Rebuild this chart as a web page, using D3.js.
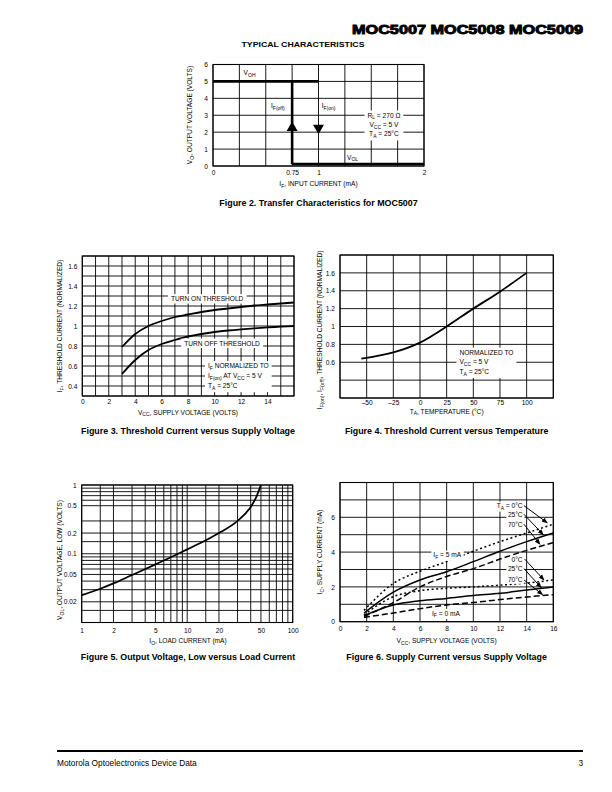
<!DOCTYPE html>
<html><head><meta charset="utf-8">
<script src="https://cdn.jsdelivr.net/npm/d3@7/dist/d3.min.js"></script>
<style>
body{margin:0;background:#fff}
svg{display:block}
text{font-family:"Liberation Sans",Arial,Helvetica,sans-serif;fill:#000}
</style></head>
<body><svg id="page" width="612" height="792"></svg>
<script>
// ================= DATA =================
// Figure 2 – transfer characteristics
const fig2XTicks = [0, 0.75, 1, 2];
const fig2YTicks = [0, 1, 2, 3, 4, 5, 6];
const fig2XGrid = [0, 0.25, 0.5, 0.75, 1, 1.25, 1.5, 1.75, 2];
const fig2YGrid = [0, 1, 2, 3, 4, 5, 6];
const fig2HighLevel = [[0, 5], [1, 5]];
const fig2Switch = [[0.75, 5], [0.75, 0.12]];
const fig2LowLevel = [[0.75, 0.12], [2, 0.12]];
const fig2Arrows = [{x: 0.75, y: 2.25, dir: "up"}, {x: 1, y: 2.25, dir: "down"}];

// Figure 3 – threshold current vs supply voltage
const fig3Vcc = [3, 4, 5, 6, 7, 8, 9, 10, 11, 12, 13, 14, 15, 16];
const fig3TurnOn = [0.79, 0.92, 1.0, 1.05, 1.09, 1.115, 1.14, 1.16, 1.175, 1.19, 1.205, 1.215, 1.225, 1.235];
const fig3TurnOff = [0.52, 0.66, 0.76, 0.82, 0.86, 0.895, 0.92, 0.94, 0.955, 0.967, 0.977, 0.986, 0.993, 1.0];
const fig3XTicks = [0, 2, 4, 6, 8, 10, 12, 14];
const fig3YTicks = [0.4, 0.6, 0.8, 1, 1.2, 1.4, 1.6];
const fig3XGrid = [0,1,2,3,4,5,6,7,8,9,10,11,12,13,14,15,16];
const fig3YGrid = [0.3,0.4,0.5,0.6,0.7,0.8,0.9,1.0,1.1,1.2,1.3,1.4,1.5,1.6,1.7];

// Figure 4 – threshold current vs temperature
const fig4Temp = [-55, -25, 0, 25, 50, 75, 100];
const fig4Threshold = [0.64, 0.71, 0.82, 1.0, 1.2, 1.39, 1.6];
const fig4XTicks = [-50, -25, 0, 25, 50, 75, 100];
const fig4YTicks = [0.6, 0.8, 1, 1.2, 1.4, 1.6];
const fig4XGrid = [-75, -50, -25, 0, 25, 50, 75, 100, 125];
const fig4YGrid = [0.2, 0.4, 0.6, 0.8, 1.0, 1.2, 1.4, 1.6, 1.8];

// Figure 5 – output voltage low vs load current (log-log)
const fig5Io = [1, 1.5, 2, 3, 5, 7, 10, 15, 20, 30, 40, 45, 50];
const fig5Vol = [0.025, 0.031, 0.037, 0.049, 0.07, 0.089, 0.116, 0.157, 0.2, 0.3, 0.48, 0.66, 1.0];
const fig5XTicks = [1, 2, 5, 10, 20, 50, 100];
const fig5YTicks = [0.02, 0.05, 0.1, 0.2, 0.5, 1];
const fig5XGrid = [1,1.5,2,3,4,5,6,7,8,9,10,15,20,30,40,50,60,70,80,90,100];
const fig5YGrid = [0.01,0.015,0.02,0.03,0.04,0.05,0.06,0.07,0.08,0.09,0.1,0.15,0.2,0.3,0.5,0.6,0.7,0.8,0.9,1];

// Figure 6 – supply current vs supply voltage
const fig6Vcc = [1.8, 4, 6, 8, 10, 12, 14, 16];
const fig6If5T0 = [0.65, 2.2, 2.9, 3.45, 4.05, 4.6, 5.1, 5.6];
const fig6If5T25 = [0.5, 1.7, 2.4, 2.87, 3.45, 4.05, 4.6, 5.1];
const fig6If5T70 = [0.3, 1.1, 2.0, 2.6, 3.05, 3.6, 4.1, 4.55];
const fig6If0T0 = [0.4, 1.44, 1.78, 1.92, 2.0, 2.1, 2.22, 2.4];
const fig6If0T25 = [0.35, 0.96, 1.2, 1.34, 1.5, 1.63, 1.82, 2.0];
const fig6If0T70 = [0.25, 0.5, 0.75, 0.96, 1.1, 1.27, 1.42, 1.55];
const fig6XTicks = [0, 2, 4, 6, 8, 10, 12, 14, 16];
const fig6YTicks = [0, 2, 4, 6];
const fig6XGrid = [0, 2, 4, 6, 8, 10, 12, 14, 16];
const fig6YGrid = [0, 1, 2, 3, 4, 5, 6, 7, 8];
const fig6TempLabelsHigh = ["T{A} = 0°C", "25°C", "70°C"];
const fig6TempLabelsLow = ["0°C", "25°C", "70°C"];
const fig6ArrowsHigh = [[[13.8, 6.67], [15.55, 5.68]], [[13.8, 6.17], [15.25, 5.0]], [[13.8, 5.6], [15.0, 4.45]]];
const fig6ArrowsLow = [[[13.85, 3.6], [15.3, 2.4]], [[13.8, 3.05], [15.1, 1.95]], [[13.8, 2.4], [15.2, 1.55]]];

// ================= DRAWING =================
const svg = d3.select("#page");
const FS = 6.6;

function rich(parent, str, x, y, opt = {}) {
  const t = parent.append("text").attr("x", x).attr("y", y)
    .attr("font-size", opt.size || FS)
    .attr("text-anchor", opt.anchor || "start");
  if (opt.weight) t.attr("font-weight", opt.weight);
  if (opt.transform) t.attr("transform", opt.transform);
  const re = /\{([^}]*)\}/g;
  let last = 0, m, shifted = false;
  const SH = 1.7;
  while ((m = re.exec(str))) {
    if (m.index > last) {
      const n = t.append("tspan").text(str.slice(last, m.index));
      if (shifted) { n.attr("dy", -SH); shifted = false; }
    }
    t.append("tspan").attr("dy", shifted ? 0 : SH).style("font-size", "0.76em").text(m[1]);
    shifted = true;
    last = re.lastIndex;
  }
  if (last < str.length) {
    const n = t.append("tspan").text(str.slice(last));
    if (shifted) n.attr("dy", -SH);
  }
  return t;
}

function whiteBehind(g, textSel, pad = 1.5) {
  const nodes = Array.isArray(textSel) ? textSel : [textSel];
  let x0 = Infinity, y0 = Infinity, x1 = -Infinity, y1 = -Infinity;
  nodes.forEach(n => {
    const b = n.node().getBBox();
    x0 = Math.min(x0, b.x); y0 = Math.min(y0, b.y);
    x1 = Math.max(x1, b.x + b.width); y1 = Math.max(y1, b.y + b.height);
  });
  g.insert("rect", () => nodes[0].node())
    .attr("x", x0 - pad).attr("y", y0 - pad * 0.4)
    .attr("width", x1 - x0 + 2 * pad).attr("height", y1 - y0 + pad * 0.8)
    .attr("fill", "#fff");
}

function panel(cfg) {
  const g = svg.append("g");
  const {x, y} = cfg;
  const [xl, xr] = x.range(), [yb, yt] = y.range();
  g.append("g").selectAll("line").data(cfg.xGrid).join("line")
    .attr("x1", d => x(d)).attr("x2", d => x(d)).attr("y1", yb).attr("y2", yt)
    .attr("stroke", "#000").attr("stroke-width", 0.9);
  g.append("g").selectAll("line").data(cfg.yGrid).join("line")
    .attr("y1", d => y(d)).attr("y2", d => y(d)).attr("x1", xl).attr("x2", xr)
    .attr("stroke", "#000").attr("stroke-width", 0.9);
  g.append("rect").attr("x", xl).attr("y", yt).attr("width", xr - xl).attr("height", yb - yt)
    .attr("fill", "none").attr("stroke", "#000").attr("stroke-width", 1.1);
  const ax = g.append("g").attr("transform", `translate(0,${yb})`)
    .call(d3.axisBottom(x).tickValues(cfg.xTicks).tickSize(0).tickPadding(cfg.xPad).tickFormat(cfg.xFmt || (d => String(d))));
  const ay = g.append("g").attr("transform", `translate(${xl},0)`)
    .call(d3.axisLeft(y).tickValues(cfg.yTicks).tickSize(0).tickPadding(cfg.yPad || 5).tickFormat(cfg.yFmt || (d => String(d))));
  [ax, ay].forEach(a => {
    a.select(".domain").remove();
    a.attr("font-family", null).attr("font-size", null);
    a.selectAll("text").attr("font-size", FS).attr("fill", "#000");
  });
  ax.selectAll("text").attr("dy", "0.71em");
  const xm = (xl + xr) / 2;
  rich(g, cfg.xTitle, cfg.xTitleX || xm, cfg.xTitleY, {anchor: "middle"});
  rich(g, cfg.yTitle, 0, 0, {anchor: "middle", transform: `translate(${cfg.yTitleX},${cfg.yTitleY}) rotate(-90)`});
  rich(g, cfg.caption, cfg.captionX || xm, cfg.captionY, {anchor: "middle", weight: "bold", size: 8.9});
  return g;
}

// ---------- header ----------
svg.append("text").attr("x", 583).attr("y", 34).attr("text-anchor", "end")
  .attr("font-size", 12.6).attr("font-weight", "bold")
  .attr("stroke", "#000").attr("stroke-width", 0.9)
  .attr("textLength", 231).attr("lengthAdjust", "spacingAndGlyphs")
  .text("MOC5007 MOC5008 MOC5009");
svg.append("text").attr("x", 303).attr("y", 46.5).attr("text-anchor", "middle")
  .attr("font-size", 8).attr("font-weight", "bold")
  .attr("textLength", 123).attr("lengthAdjust", "spacingAndGlyphs")
  .text("TYPICAL CHARACTERISTICS");

// ---------- Figure 2 ----------
{
  const x = d3.scaleLinear([0, 2], [213, 424]);
  const y = d3.scaleLinear([0, 6], [166, 64.5]);
  const g = panel({x, y, xGrid: fig2XGrid, yGrid: fig2YGrid, xTicks: fig2XTicks, yTicks: fig2YTicks,
    xPad: 4.5, yPad: 5,
    xTitle: "I{F}, INPUT CURRENT (mA)", xTitleY: 186,
    yTitle: "V{O}, OUTPUT VOLTAGE (VOLTS)", yTitleX: 192, yTitleY: 115,
    caption: "Figure 2. Transfer Characteristics for MOC5007", captionY: 206});
  const line = d3.line().x(d => x(d[0])).y(d => y(d[1]));
  [fig2HighLevel, fig2Switch, fig2LowLevel].forEach(seg =>
    g.append("path").attr("d", line(seg)).attr("fill", "none").attr("stroke", "#000").attr("stroke-width", 2.6));
  g.selectAll(".arr").data(fig2Arrows).join("path")
    .attr("d", d3.symbol(d3.symbolTriangle, 52))
    .attr("transform", d => `translate(${x(d.x)},${y(d.y)}) rotate(${d.dir === "up" ? 0 : 180})`)
    .attr("fill", "#000");
  rich(g, "V{OH}", x(0.29), y(5.38));
  rich(g, "V{OL}", x(1.27), y(0.38));
  rich(g, "I{F(off)}", x(0.55), y(3.4));
  rich(g, "I{F(on)}", x(1.03), y(3.4));
  const leg = ["R{L} = 270 Ω", "V{CC} = 5 V", "T{A} = 25°C"].map((s, i) => rich(g, s, x(1.62), y(2.3) - 9.4 + i * 9.4, {anchor: "middle"}));
  whiteBehind(g, leg, 3);
}

// ---------- Figure 3 ----------
{
  const x = d3.scaleLinear([0, 16], [82.3, 294]);
  const y = d3.scaleLinear([0.3, 1.7], [396, 256]);
  const g = panel({x, y, xGrid: fig3XGrid, yGrid: fig3YGrid, xTicks: fig3XTicks, yTicks: fig3YTicks,
    xPad: 3.5,
    xTitle: "V{CC}, SUPPLY VOLTAGE (VOLTS)", xTitleY: 414.5, xTitleX: 188,
    yTitle: "I{F}, THRESHOLD CURRENT (NORMALIZED)", yTitleX: 62, yTitleY: 326,
    caption: "Figure 3. Threshold Current versus Supply Voltage", captionY: 434, captionX: 188});
  const line = d3.line().x((d, i) => x(fig3Vcc[i])).y(d => y(d)).curve(d3.curveMonotoneX);
  [fig3TurnOn, fig3TurnOff].forEach(s =>
    g.append("path").attr("d", line(s)).attr("fill", "none").attr("stroke", "#000").attr("stroke-width", 1.8));
  const t1 = rich(g, "TURN ON THRESHOLD", x(6.7), y(1.27) + 2.3);
  whiteBehind(g, t1, 3);
  const t2 = rich(g, "TURN OFF THRESHOLD", x(7.7), y(0.825) + 2.3);
  whiteBehind(g, t2, 3);
  const leg = ["I{F} NORMALIZED TO", "I{F(on)} AT V{CC} = 5 V", "T{A} = 25°C"].map((s, i) => rich(g, s, x(9.5), y(0.6) + 2.3 + i * 10));
  whiteBehind(g, leg, 3);
}

// ---------- Figure 4 ----------
{
  const x = d3.scaleLinear([-75, 125], [340, 553.3]);
  const y = d3.scaleLinear([0.2, 1.8], [398, 255]);
  const g = panel({x, y, xGrid: fig4XGrid, yGrid: fig4YGrid, xTicks: fig4XTicks, yTicks: fig4YTicks,
    xPad: 2.5,
    xFmt: d => d < 0 ? "–" + (-d) : String(d),
    xTitle: "T{A}, TEMPERATURE (°C)", xTitleY: 413.5,
    yTitle: "I{F(on)}, I{F(off)}, THRESHOLD CURRENT (NORMALIZED)", yTitleX: 322, yTitleY: 330,
    caption: "Figure 4. Threshold Current versus Temperature", captionY: 434});
  const line = d3.line().x((d, i) => x(fig4Temp[i])).y(d => y(d)).curve(d3.curveMonotoneX);
  g.append("path").attr("d", line(fig4Threshold)).attr("fill", "none").attr("stroke", "#000").attr("stroke-width", 1.8);
  const leg = ["NORMALIZED TO", "V{CC} = 5 V", "T{A} = 25°C"].map((s, i) => rich(g, s, x(37), y(0.71) + 2.3 + i * 9.7));
  whiteBehind(g, leg, 3);
}

// ---------- Figure 5 ----------
{
  const x = d3.scaleLog([1, 100], [81.7, 292.7]);
  const y = d3.scaleLog([0.01, 1], [622.5, 485]);
  const g = panel({x, y, xGrid: fig5XGrid, yGrid: fig5YGrid, xTicks: fig5XTicks, yTicks: fig5YTicks,
    xPad: 5.5,
    xTitle: "I{O}, LOAD CURRENT (mA)", xTitleY: 643, xTitleX: 188,
    yTitle: "V{OL}, OUTPUT VOLTAGE, LOW (VOLTS)", yTitleX: 62, yTitleY: 560,
    caption: "Figure 5. Output Voltage, Low versus Load Current", captionY: 660, captionX: 188});
  const line = d3.line().x((d, i) => x(fig5Io[i])).y(d => y(d)).curve(d3.curveMonotoneX);
  g.append("path").attr("d", line(fig5Vol)).attr("fill", "none").attr("stroke", "#000").attr("stroke-width", 1.8);
}

// ---------- Figure 6 ----------
{
  const x = d3.scaleLinear([0, 16], [340, 553.3]);
  const y = d3.scaleLinear([0, 8], [621.7, 482.5]);
  const g = panel({x, y, xGrid: fig6XGrid, yGrid: fig6YGrid, xTicks: fig6XTicks, yTicks: fig6YTicks,
    xPad: 5,
    xTitle: "V{CC}, SUPPLY VOLTAGE (VOLTS)", xTitleY: 643,
    yTitle: "I{C}, SUPPLY CURRENT (mA)", yTitleX: 322, yTitleY: 552,
    caption: "Figure 6. Supply Current versus Supply Voltage", captionY: 660});
  const line = d3.line().x((d, i) => x(fig6Vcc[i])).y(d => y(d)).curve(d3.curveMonotoneX);
  const series = [
    [fig6If5T0, "2,2.6"], [fig6If5T25, null], [fig6If5T70, "6,3"],
    [fig6If0T0, "2,2.6"], [fig6If0T25, null], [fig6If0T70, "6,3"]];
  series.forEach(([s, dash]) => {
    const p = g.append("path").attr("d", line(s)).attr("fill", "none").attr("stroke", "#000").attr("stroke-width", 1.5);
    if (dash) p.attr("stroke-dasharray", dash);
  });
  const l5 = rich(g, "I{F} = 5 mA", x(7), y(3.83) + 2.3); whiteBehind(g, l5, 2);
  const l0 = rich(g, "I{F} = 0 mA", x(6.9), y(0.48) + 2.3); whiteBehind(g, l0, 2);
  const hiY = [6.65, 6.15, 5.6], loY = [3.55, 3.02, 2.4];
  fig6TempLabelsHigh.forEach((s, i) => { const t = rich(g, s, x(13.7), y(hiY[i]) + 2.3, {anchor: "end"}); whiteBehind(g, t, 1.5); });
  fig6TempLabelsLow.forEach((s, i) => { const t = rich(g, s, x(13.7), y(loY[i]) + 2.3, {anchor: "end"}); whiteBehind(g, t, 1.5); });
  svg.append("defs").append("marker").attr("id", "ah").attr("viewBox", "0 0 10 10")
    .attr("refX", 9).attr("refY", 5).attr("markerWidth", 6).attr("markerHeight", 6)
    .attr("markerUnits", "userSpaceOnUse").attr("orient", "auto")
    .append("path").attr("d", "M0,1 L10,5 L0,9 Z").attr("fill", "#000");
  [...fig6ArrowsHigh, ...fig6ArrowsLow].forEach(a =>
    g.append("line").attr("x1", x(a[0][0])).attr("y1", y(a[0][1])).attr("x2", x(a[1][0])).attr("y2", y(a[1][1]))
      .attr("stroke", "#000").attr("stroke-width", 1).attr("marker-end", "url(#ah)"));
}

// ---------- footer ----------
svg.append("line").attr("x1", 57).attr("x2", 583).attr("y1", 751).attr("y2", 751).attr("stroke", "#000").attr("stroke-width", 1.8);
svg.append("text").attr("x", 57).attr("y", 766).attr("font-size", 8.3).text("Motorola Optoelectronics Device Data");
svg.append("text").attr("x", 583).attr("y", 766).attr("font-size", 8.3).attr("text-anchor", "end").text("3");
</script></body></html>
